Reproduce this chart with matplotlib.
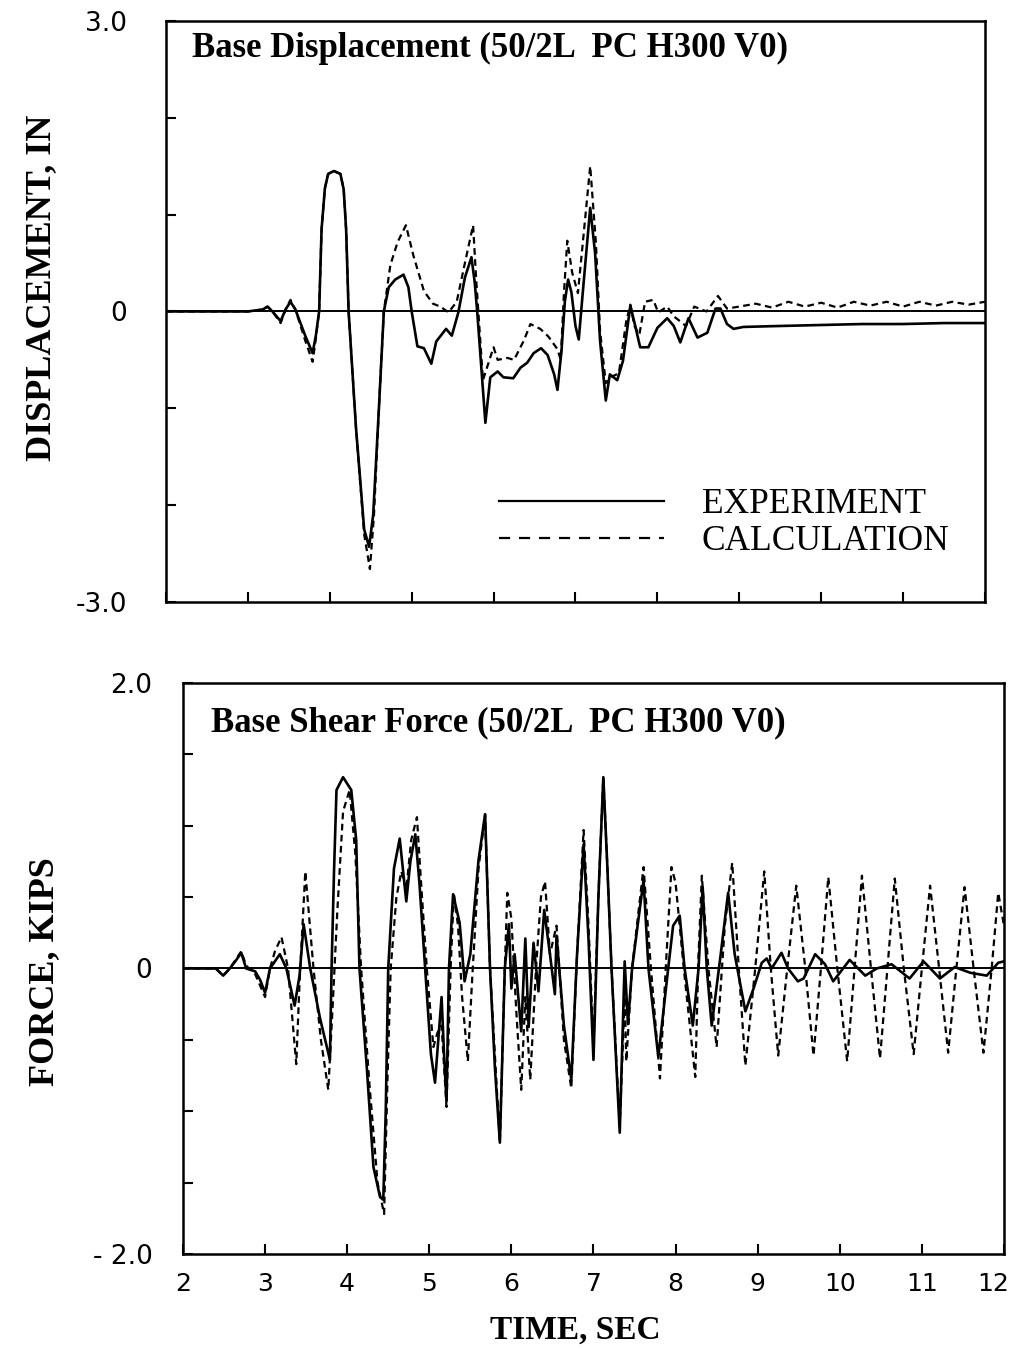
import matplotlib.pyplot as plt
from matplotlib.lines import Line2D
from matplotlib.transforms import ScaledTranslation

# base displacement, experiment (time in sec, displacement in inches)
disp_exp_t = [2.0, 2.6, 3.0, 3.18, 3.24, 3.30, 3.40, 3.46, 3.52, 3.58, 3.70, 3.79, 3.83, 3.87,
              3.90, 3.94, 3.98, 4.05, 4.13, 4.17, 4.20, 4.23, 4.32, 4.42, 4.48, 4.53, 4.60, 4.66,
              4.72, 4.80, 4.90, 4.96, 5.00, 5.07, 5.15, 5.24, 5.30, 5.42, 5.49, 5.57, 5.65, 5.73,
              5.77, 5.80, 5.90, 5.96, 6.05, 6.12, 6.24, 6.33, 6.41, 6.49, 6.58, 6.66, 6.74, 6.78,
              6.83, 6.87, 6.91, 6.95, 7.00, 7.04, 7.10, 7.18, 7.24, 7.30, 7.37, 7.42, 7.51, 7.58,
              7.67, 7.73, 7.79, 7.89, 8.00, 8.12, 8.20, 8.28, 8.38, 8.49, 8.61, 8.71, 8.77, 8.85,
              8.93, 9.05, 9.5, 10.0, 10.5, 11.0, 11.5, 12.0]
disp_exp = [0.0, 0.0, 0.0, 0.02, 0.05, 0.0, -0.10, 0.02, 0.10, 0.02, -0.25, -0.43, -0.25, 0.0,
            0.85, 1.27, 1.42, 1.45, 1.42, 1.26, 0.84, 0.0, -1.2, -2.25, -2.43, -2.1, -1.0, 0.0,
            0.25, 0.33, 0.38, 0.25, 0.0, -0.36, -0.38, -0.54, -0.31, -0.18, -0.25, -0.01, 0.35, 0.56,
            0.3, 0.0, -1.15, -0.68, -0.62, -0.68, -0.69, -0.58, -0.53, -0.43, -0.38, -0.45, -0.65, -0.81,
            -0.4, 0.1, 0.33, 0.2, -0.15, -0.29, 0.3, 1.07, 0.6, -0.3, -0.92, -0.65, -0.71, -0.51,
            0.06, -0.15, -0.37, -0.37, -0.17, -0.07, -0.15, -0.32, -0.07, -0.27, -0.22, 0.03, 0.03, -0.13,
            -0.18, -0.16, -0.15, -0.14, -0.13, -0.13, -0.12, -0.12]

# base displacement, calculation
disp_calc_t = [2.0, 2.6, 3.0, 3.18, 3.24, 3.30, 3.40, 3.46, 3.52, 3.58, 3.70, 3.79, 3.83, 3.87,
               3.90, 3.94, 3.98, 4.05, 4.13, 4.17, 4.20, 4.23, 4.32, 4.42, 4.49, 4.54, 4.60, 4.66,
               4.74, 4.83, 4.93, 5.02, 5.15, 5.26, 5.35, 5.45, 5.55, 5.65, 5.75, 5.79, 5.87, 5.95,
               6.00, 6.05, 6.17, 6.25, 6.37, 6.45, 6.57, 6.67, 6.78, 6.82, 6.86, 6.90, 6.96, 7.03,
               7.10, 7.18, 7.25, 7.30, 7.37, 7.45, 7.53, 7.62, 7.67, 7.72, 7.78, 7.85, 7.95, 8.01,
               8.12, 8.20, 8.35, 8.45, 8.60, 8.74, 8.85, 9.0, 9.2, 9.4, 9.6, 9.8, 10.0, 10.2,
               10.4, 10.6, 10.8, 11.0, 11.2, 11.4, 11.6, 11.8, 12.0]
disp_calc = [0.0, 0.0, 0.0, 0.02, 0.05, 0.0, -0.12, 0.02, 0.12, 0.02, -0.3, -0.52, -0.28, 0.0,
             0.85, 1.27, 1.42, 1.45, 1.42, 1.26, 0.84, 0.0, -1.2, -2.3, -2.66, -2.1, -1.0, 0.0,
             0.48, 0.72, 0.89, 0.58, 0.21, 0.08, 0.05, -0.01, 0.1, 0.5, 0.89, 0.3, -0.71, -0.5,
             -0.37, -0.5, -0.48, -0.5, -0.3, -0.13, -0.18, -0.26, -0.39, -0.5, 0.2, 0.73, 0.4, 0.19,
             0.8, 1.50, 0.7, -0.2, -0.74, -0.67, -0.64, -0.1, 0.07, -0.15, -0.24, 0.1, 0.12, -0.01,
             0.05, -0.05, -0.15, 0.05, 0.0, 0.16, 0.03, 0.05, 0.08, 0.04, 0.1, 0.05, 0.09, 0.04,
             0.1, 0.06, 0.1, 0.05, 0.1, 0.06, 0.1, 0.07, 0.1]

# base shear force, experiment (kips)
force_exp_t = [2.0, 2.40, 2.49, 2.57, 2.65, 2.71, 2.77, 2.88, 2.94, 3.00, 3.06, 3.12, 3.18, 3.26,
               3.36, 3.42, 3.47, 3.55, 3.67, 3.79, 3.81, 3.84, 3.87, 3.95, 4.05, 4.11, 4.15, 4.24,
               4.32, 4.40, 4.44, 4.47, 4.50, 4.57, 4.64, 4.72, 4.77, 4.83, 4.88, 4.95, 5.02, 5.07,
               5.11, 5.15, 5.18, 5.21, 5.24, 5.29, 5.37, 5.43, 5.50, 5.60, 5.68, 5.74, 5.80, 5.86,
               5.92, 5.97, 6.00, 6.04, 6.12, 6.17, 6.21, 6.27, 6.33, 6.40, 6.47, 6.53, 6.55, 6.64,
               6.73, 6.80, 6.88, 6.94, 7.00, 7.06, 7.12, 7.17, 7.22, 7.32, 7.38, 7.42, 7.47, 7.61,
               7.67, 7.79, 7.91, 7.97, 8.05, 8.11, 8.21, 8.28, 8.33, 8.38, 8.44, 8.55, 8.64, 8.72,
               8.85, 8.95, 9.05, 9.11, 9.17, 9.29, 9.37, 9.49, 9.56, 9.70, 9.82, 9.92, 10.12, 10.31,
               10.45, 10.63, 10.85, 11.02, 11.22, 11.40, 11.59, 11.79, 11.93, 12.0]
force_exp = [0.0, 0.0, -0.05, 0.0, 0.06, 0.11, 0.0, -0.02, -0.08, -0.17, 0.0, 0.05, 0.10, 0.0,
             -0.26, -0.05, 0.31, 0.0, -0.35, -0.64, 0.0, 0.68, 1.25, 1.34, 1.25, 0.9, 0.0, -0.7,
             -1.39, -1.60, -1.62, -1.0, 0.0, 0.7, 0.91, 0.47, 0.75, 0.94, 0.6, 0.0, -0.6, -0.80,
             -0.5, -0.20, -0.6, -0.93, 0.0, 0.52, 0.32, -0.09, 0.1, 0.76, 1.08, 0.0, -0.7, -1.22,
             0.0, 0.31, -0.14, 0.1, -0.44, 0.21, -0.41, 0.18, -0.16, 0.41, 0.1, -0.18, 0.23, -0.4,
             -0.78, 0.1, 0.87, 0.2, -0.64, 0.5, 1.34, 0.7, 0.0, -1.15, 0.05, -0.39, 0.0, 0.62,
             0.0, -0.62, 0.0, 0.30, 0.37, 0.0, -0.40, 0.0, 0.57, 0.0, -0.40, 0.1, 0.53, 0.1,
             -0.30, -0.14, 0.04, 0.07, 0.0, 0.11, 0.0, -0.09, -0.07, 0.10, 0.03, -0.09, 0.06, -0.05,
             0.0, 0.03, -0.07, 0.05, -0.07, 0.01, -0.03, -0.05, 0.04, 0.05]

# base shear force, calculation
force_calc_t = [2.0, 2.40, 2.49, 2.57, 2.71, 2.77, 2.88, 2.94, 3.00, 3.06, 3.12, 3.20, 3.28, 3.38,
                3.42, 3.49, 3.59, 3.68, 3.77, 3.82, 3.88, 3.95, 4.03, 4.10, 4.17, 4.27, 4.37, 4.45,
                4.49, 4.53, 4.60, 4.66, 4.72, 4.78, 4.85, 4.90, 4.97, 5.05, 5.10, 5.15, 5.21, 5.26,
                5.30, 5.35, 5.40, 5.47, 5.52, 5.60, 5.68, 5.74, 5.86, 5.92, 5.95, 6.00, 6.06, 6.12,
                6.17, 6.23, 6.30, 6.36, 6.41, 6.47, 6.55, 6.64, 6.73, 6.80, 6.88, 6.94, 7.00, 7.06,
                7.12, 7.17, 7.22, 7.32, 7.38, 7.40, 7.47, 7.61, 7.70, 7.81, 7.88, 7.95, 8.00, 8.10,
                8.24, 8.28, 8.32, 8.40, 8.50, 8.60, 8.69, 8.77, 8.85, 8.97, 9.08, 9.16, 9.25, 9.36,
                9.47, 9.58, 9.68, 9.77, 9.86, 9.97, 10.09, 10.18, 10.27, 10.38, 10.49, 10.58, 10.67, 10.78,
                10.90, 11.00, 11.10, 11.21, 11.32, 11.42, 11.52, 11.63, 11.75, 11.85, 11.93, 12.0]
force_calc = [0.0, 0.0, -0.05, 0.0, 0.12, 0.02, -0.04, -0.12, -0.2, 0.0, 0.12, 0.22, 0.0, -0.67,
              -0.1, 0.68, 0.0, -0.5, -0.85, -0.3, 0.4, 1.1, 1.25, 0.8, 0.0, -0.8, -1.5, -1.72,
              -0.8, 0.0, 0.5, 0.68, 0.55, 0.9, 1.06, 0.6, 0.0, -0.55, -0.45, -0.4, -0.97, 0.0,
              0.53, 0.3, -0.2, -0.65, -0.1, 0.7, 1.08, 0.0, -1.22, 0.0, 0.53, 0.35, -0.3, -0.85,
              -0.2, -0.78, 0.0, 0.5, 0.61, 0.1, 0.3, -0.5, -0.84, 0.1, 0.97, 0.3, -0.55, 0.5,
              1.34, 0.7, 0.0, -1.1, -0.2, -0.65, 0.0, 0.71, 0.0, -0.77, 0.0, 0.71, 0.6, 0.0,
              -0.76, 0.1, 0.65, 0.0, -0.55, 0.3, 0.74, 0.0, -0.68, 0.0, 0.68, 0.0, -0.61, 0.0,
              0.58, 0.0, -0.61, 0.0, 0.64, 0.0, -0.65, 0.0, 0.65, 0.0, -0.63, 0.0, 0.63, 0.0,
              -0.60, 0.0, 0.58, 0.0, -0.59, 0.0, 0.57, 0.0, -0.59, 0.0, 0.53, 0.3]

time_ticks = list(range(2, 13))

serif = 'Liberation Serif'
sans = 'DejaVu Sans'


def style_axes(ax, ylim, yticks, ylabels, ylabel_pad, show_xlabels):
    ax.set_xlim(2, 12)
    ax.set_ylim(*ylim)
    ax.axhline(0, color='black', lw=1.4, zorder=1)
    ax.set_xticks(time_ticks)
    ax.set_yticks(yticks)
    ax.set_yticklabels(ylabels, fontfamily=sans, fontsize=19)
    if show_xlabels:
        ax.set_xticklabels([str(t) for t in time_ticks], fontfamily=sans, fontsize=18)
    ax.tick_params(axis='both', direction='in', length=7, width=1.5,
                   top=False, right=False, labelbottom=show_xlabels)
    ax.tick_params(axis='y', pad=ylabel_pad)
    ax.tick_params(axis='x', pad=13)
    for sp in ax.spines.values():
        sp.set_linewidth(1.8)


fig = plt.figure(figsize=(10.17, 13.5), dpi=100)

# displacement panel
ax1 = fig.add_axes([0.1632, 0.5541, 0.8053, 0.4304])
ax1.plot(disp_exp_t, disp_exp, color='black', lw=1.9, solid_joinstyle='round')
ax1.plot(disp_calc_t, disp_calc, color='black', lw=1.6, ls=(0, (3, 2)))
style_axes(ax1, (-3, 3), [-3, -2, -1, 0, 1, 2, 3],
           ['-3.0', '', '', '0', '', '', '3.0'], 28, False)
ax1.text(0.032, 0.953, 'Base Displacement (50/2L  PC H300 V0)', transform=ax1.transAxes,
         fontfamily=serif, fontweight='bold', fontsize=25, va='center', ha='left')

handles = [Line2D([], [], color='black', lw=1.6),
           Line2D([], [], color='black', lw=1.6, ls=(0, (5, 4)))]
ax1.legend(handles, ['EXPERIMENT', 'CALCULATION'], loc='upper left',
           bbox_to_anchor=(0.407, 0.196), frameon=False, borderpad=0, borderaxespad=0,
           handlelength=4.66, handletextpad=1.05, labelspacing=0.12,
           prop={'family': serif, 'size': 25.5})

# shear force panel
ax2 = fig.add_axes([0.1799, 0.0711, 0.8073, 0.4230])
ax2.plot(force_exp_t, force_exp, color='black', lw=1.9, solid_joinstyle='round')
ax2.plot(force_calc_t, force_calc, color='black', lw=1.6, ls=(0, (3, 2)))
style_axes(ax2, (-2, 2), [-2, -1.5, -1, -0.5, 0, 0.5, 1, 1.5, 2],
           ['- 2.0', '', '', '', '0', '', '', '', '2.0'], 22, True)
ax2.text(0.034, 0.93, 'Base Shear Force (50/2L  PC H300 V0)', transform=ax2.transAxes,
         fontfamily=serif, fontweight='bold', fontsize=25, va='center', ha='left')

# keep the last time label inside the page
last = ax2.get_xticklabels()[-1]
last.set_transform(last.get_transform() + ScaledTranslation(-8 / 72, 0, fig.dpi_scale_trans))

fig.text(0.0413, 0.7867, 'DISPLACEMENT, IN', rotation=90, ha='center', va='center',
         fontfamily=serif, fontweight='bold', fontsize=26)
fig.text(0.0442, 0.28, 'FORCE, KIPS', rotation=90, ha='center', va='center',
         fontfamily=serif, fontweight='bold', fontsize=26)
fig.text(0.5654, 0.0148, 'TIME, SEC', ha='center', va='center',
         fontfamily=serif, fontweight='bold', fontsize=24)

fig.savefig('out.png', dpi=100)
